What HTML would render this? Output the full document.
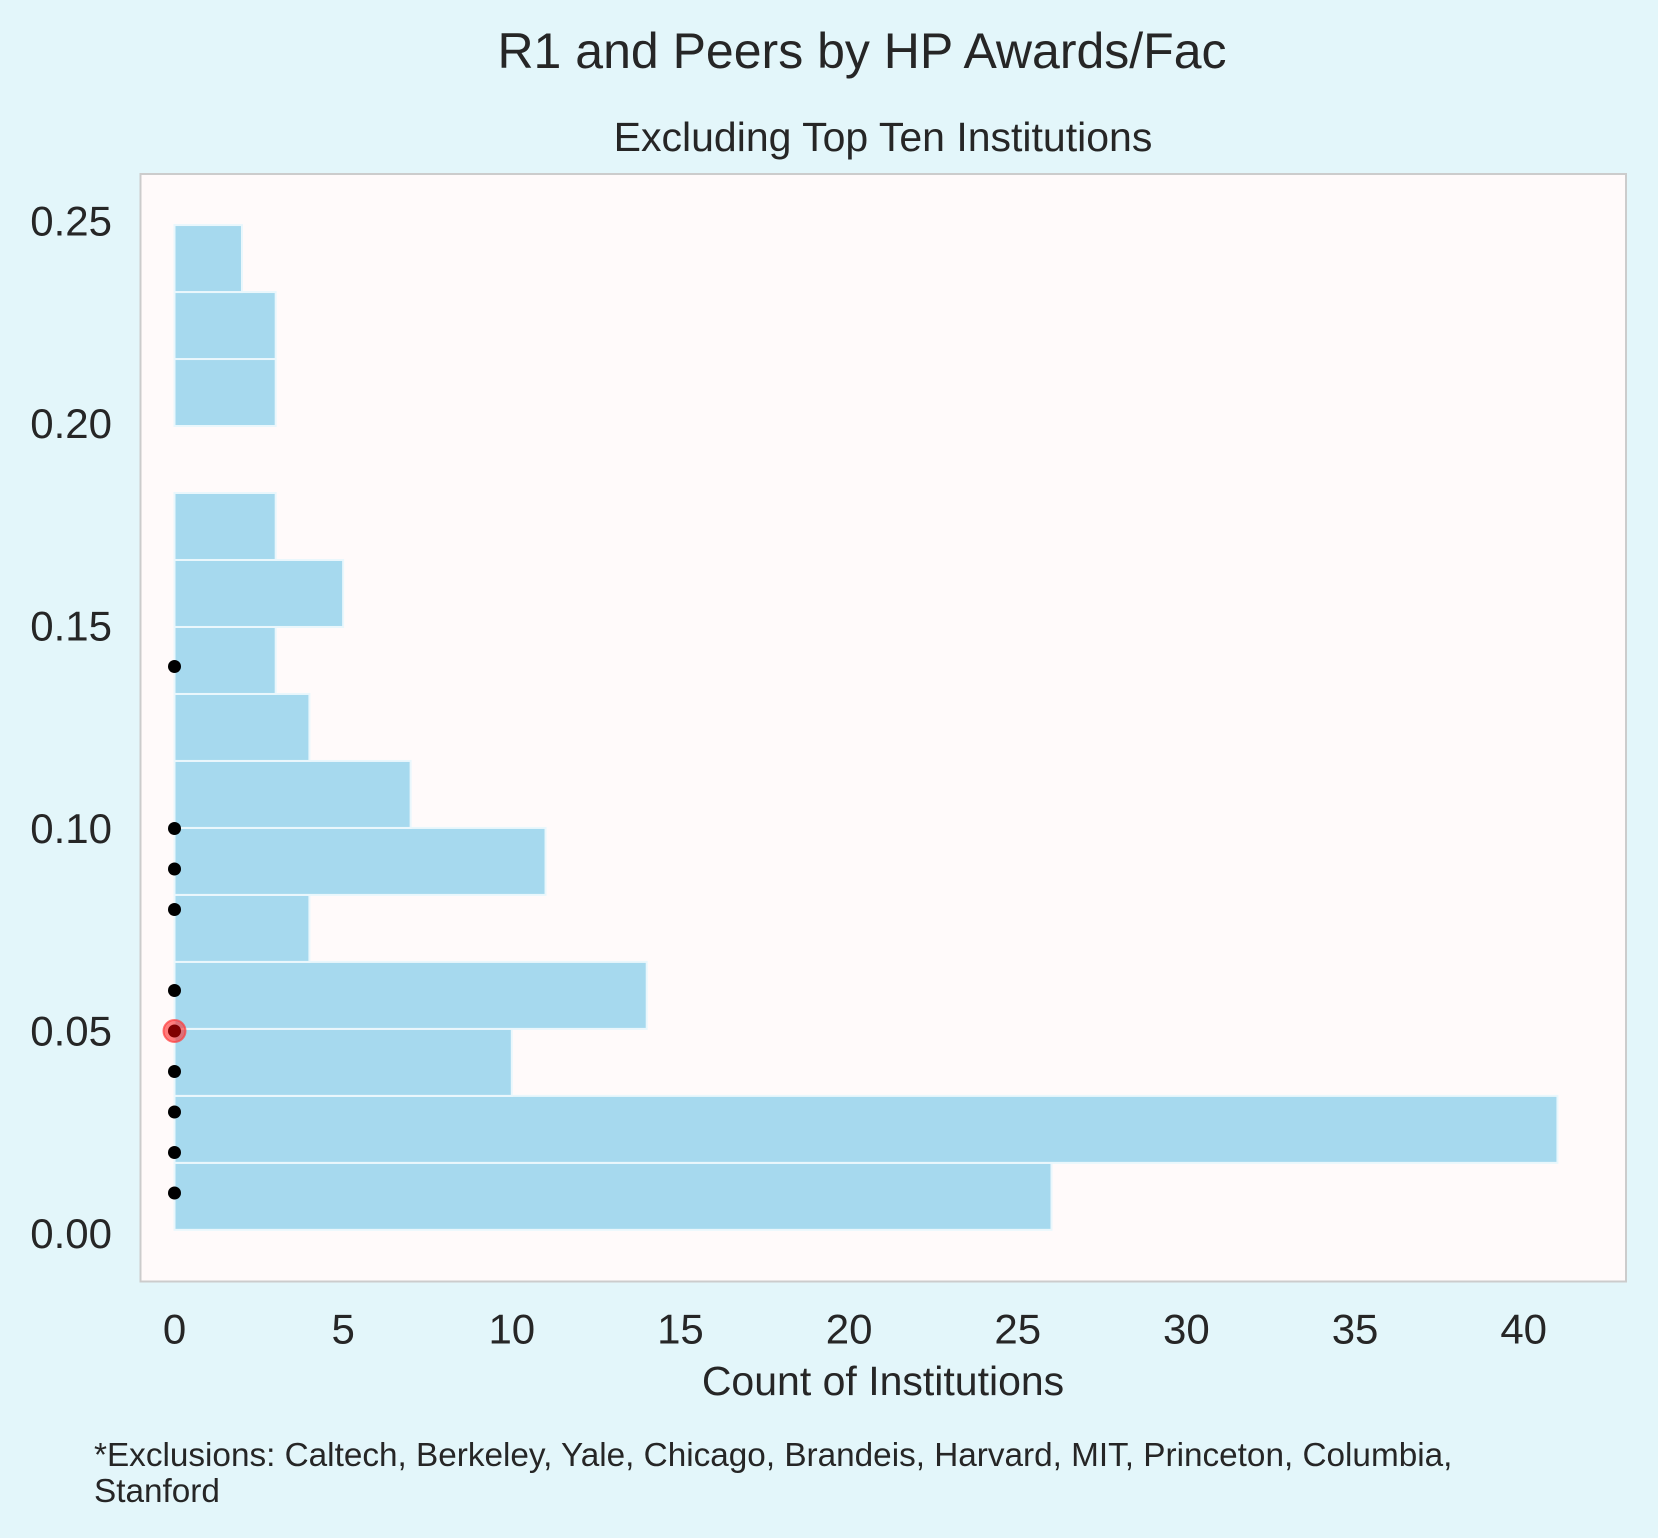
<!DOCTYPE html>
<html><head><meta charset="utf-8"><style>
html,body{margin:0;padding:0;background:#e3f6fa;}
svg{display:block;font-family:"Liberation Sans",sans-serif;}
</style></head><body>
<svg id="chart" width="1658" height="1538" viewBox="0 0 1658 1538" xmlns="http://www.w3.org/2000/svg">
<rect x="0" y="0" width="1658" height="1538" fill="#e3f6fa"/>
<text x="862" y="51" font-size="50" fill="#262626" text-anchor="middle" dominant-baseline="central">R1 and Peers by HP Awards/Fac</text>
<text x="883" y="137" font-size="41" fill="#262626" text-anchor="middle" dominant-baseline="central">Excluding Top Ten Institutions</text>
<rect x="140.5" y="174" width="1485.5" height="1107.5" fill="#fffafa" stroke="#cccccc" stroke-width="2"/>
<g id="bars"></g>
<g id="points"></g>
<g id="yticks"></g>
<g id="xticks"></g>
<text x="883" y="1381" font-size="41" fill="#262626" text-anchor="middle" dominant-baseline="central">Count of Institutions</text>
<text font-size="33.3" fill="#262626">
<tspan x="94" y="1466">*Exclusions: Caltech, Berkeley, Yale, Chicago, Brandeis, Harvard, MIT, Princeton, Columbia,</tspan>
<tspan x="94" y="1502">Stanford</tspan>
</text>
</svg>
<script>
const binStart = 0.0009;
const binWidth = 0.01654;
const counts = [26, 41, 10, 14, 4, 11, 7, 4, 3, 5, 3, 0, 3, 3, 2];
const pointValues = [0.01, 0.02, 0.03, 0.04, 0.06, 0.08, 0.09, 0.10, 0.14];
const highlightValue = 0.05;
const yTickLabels = ["0.00", "0.05", "0.10", "0.15", "0.20", "0.25"];
const yTickValues = [0, 0.05, 0.10, 0.15, 0.20, 0.25];
const xTickValues = [0, 5, 10, 15, 20, 25, 30, 35, 40];

const NS = "http://www.w3.org/2000/svg";
function xs(v){ return 174.5 + v * 33.73; }
function ys(v){ return 1233.5 - v * 4050; }
function mk(tag, attrs, parent){
  const el = document.createElementNS(NS, tag);
  for (const k in attrs) el.setAttribute(k, attrs[k]);
  parent.appendChild(el);
  return el;
}
const bars = document.getElementById('bars');
counts.forEach((c, i) => {
  const y0 = ys(binStart + i * binWidth), y1 = ys(binStart + (i + 1) * binWidth);
  const r = mk('rect', {x: xs(0), y: y1, width: Math.max(0, xs(c) - xs(0)), height: y0 - y1, fill: '#a6d9ee', stroke: '#eaf7fc', 'stroke-width': 2}, bars);
  
  
});
const pts = document.getElementById('points');
pointValues.forEach(v => {
  const c = mk('circle', {cx: xs(0), cy: ys(v), r: 6.5, fill: '#000'}, pts);
  
  
});
const hl = mk('circle', {cx: xs(0), cy: ys(highlightValue), r: 11, fill: 'rgba(255,40,40,0.6)', stroke: 'rgba(255,60,60,0.7)', 'stroke-width': 2}, pts);


const hd = mk('circle', {cx: xs(0), cy: ys(highlightValue), r: 6.5, fill: '#800000'}, pts);


const yt = document.getElementById('yticks');
yTickValues.forEach((v, i) => {
  const t = mk('text', {x: 112, y: ys(v), 'font-size': 42, fill: '#262626', 'text-anchor': 'end', 'dominant-baseline': 'central'}, yt);
  t.textContent = yTickLabels[i];
  
  
});
const xt = document.getElementById('xticks');
xTickValues.forEach(v => {
  const t = mk('text', {x: xs(v), y: 1329, 'font-size': 42, fill: '#262626', 'text-anchor': 'middle', 'dominant-baseline': 'central'}, xt);
  t.textContent = String(v);
  
  
});
</script>
</body></html>
